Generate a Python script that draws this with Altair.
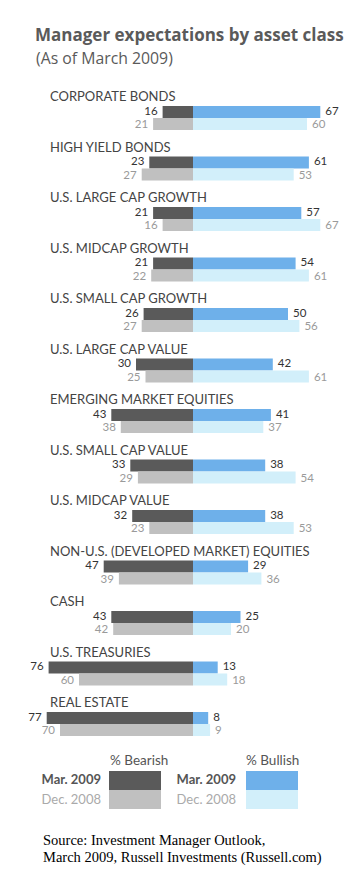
import altair as alt
import pandas as pd

categories = [
    "CORPORATE BONDS", "HIGH YIELD BONDS", "U.S. LARGE CAP GROWTH",
    "U.S. MIDCAP GROWTH", "U.S. SMALL CAP GROWTH", "U.S. LARGE CAP VALUE",
    "EMERGING MARKET EQUITIES", "U.S. SMALL CAP VALUE", "U.S. MIDCAP VALUE",
    "NON-U.S. (DEVELOPED MARKET) EQUITIES", "CASH", "U.S. TREASURIES",
    "REAL ESTATE",
]
bearish_mar = [16, 23, 21, 21, 26, 30, 43, 33, 32, 47, 43, 76, 77]
bullish_mar = [67, 61, 57, 54, 50, 42, 41, 38, 38, 29, 25, 13, 8]
bearish_dec = [21, 27, 16, 22, 27, 25, 38, 29, 23, 39, 42, 60, 70]
bullish_dec = [60, 53, 67, 61, 56, 61, 37, 54, 53, 36, 20, 18, 9]
periods = ["Mar. 2009", "Dec. 2008"]

title_text = "Manager expectations by asset class"
subtitle_text = "(As of March 2009)"
source_text = "Source: Investment Manager Outlook,\nMarch 2009, Russell Investments (Russell.com)"

rows = []
for i, c in enumerate(categories):
    rows.append({"cat": c, "idx": i, "period": periods[0], "sub": 0,
                 "bear": bearish_mar[i], "bull": bullish_mar[i]})
    rows.append({"cat": c, "idx": i, "period": periods[1], "sub": 1,
                 "bear": bearish_dec[i], "bull": bullish_dec[i]})
df = pd.DataFrame(rows)
cats_df = pd.DataFrame({"cat": categories, "idx": list(range(len(categories)))})

W, H = 344, 859
PX = 1.9          # pixels per percentage point
ZERO = 185        # pixel position of zero
GROUP = 50.5      # pixels per category group
FIRST = 89        # pixel position of first category label

xs = alt.Scale(domain=[-ZERO / PX, (W - ZERO) / PX], nice=False, zero=False)
ys = alt.Scale(domain=[-FIRST / GROUP, (H - FIRST) / GROUP], nice=False,
               zero=False, reverse=True)

FONT = "Lato"
C_BEAR_MAR = "#5a5a5a"
C_BEAR_DEC = "#c0c0c0"
C_BULL_MAR = "#6eb0ea"
C_BULL_DEC = "#d2effa"

base = alt.Chart(df).transform_calculate(
    nbear="-datum.bear",
    top=f"datum.idx + {9/GROUP} + datum.sub * {12/GROUP}",
    bot=f"datum.idx + {21/GROUP} + datum.sub * {12/GROUP}",
    mid=f"datum.idx + {14.5/GROUP} + datum.sub * {13.5/GROUP}",
    zero="0",
)

bar_color = alt.Color(
    "key:N",
    scale=alt.Scale(domain=["bear0", "bear1", "bull0", "bull1"],
                    range=[C_BEAR_MAR, C_BEAR_DEC, C_BULL_MAR, C_BULL_DEC]),
    legend=None,
)

bear_bars = base.transform_calculate(key="'bear' + datum.sub").mark_rect().encode(
    x=alt.X("nbear:Q", scale=xs, axis=None),
    x2="zero:Q",
    y=alt.Y("top:Q", scale=ys, axis=None),
    y2="bot:Q",
    color=bar_color,
)
bull_bars = base.transform_calculate(key="'bull' + datum.sub").mark_rect().encode(
    x=alt.X("zero:Q", scale=xs, axis=None),
    x2="bull:Q",
    y=alt.Y("top:Q", scale=ys, axis=None),
    y2="bot:Q",
    color=bar_color,
)

lab_color = alt.Color(
    "period:N",
    scale=alt.Scale(domain=periods, range=["#333333", "#9a9a9a"]),
    legend=None,
)
bear_labels = base.mark_text(font=FONT, fontSize=11.5, align="right",
                             baseline="middle", dx=-5).encode(
    x=alt.X("nbear:Q", scale=xs, axis=None),
    y=alt.Y("mid:Q", scale=ys, axis=None),
    text="bear:Q",
    color=lab_color,
)
bull_labels = base.mark_text(font=FONT, fontSize=11.5, align="left",
                             baseline="middle", dx=5).encode(
    x=alt.X("bull:Q", scale=xs, axis=None),
    y=alt.Y("mid:Q", scale=ys, axis=None),
    text="bull:Q",
    color=lab_color,
)

cat_labels = alt.Chart(cats_df).mark_text(
    font=FONT, fontSize=13, align="left", baseline="middle", color="#444444"
).encode(
    x=alt.value(42),
    y=alt.Y("idx:Q", scale=ys, axis=None),
    text="cat:N",
)

title = alt.Chart(pd.DataFrame({"t": [title_text]})).mark_text(
    font="Open Sans", fontSize=17, fontWeight="bold", align="left",
    baseline="alphabetic", color="#5a5a5a"
).encode(x=alt.value(27), y=alt.value(33), text="t:N")

subtitle = alt.Chart(pd.DataFrame({"t": [subtitle_text]})).mark_text(
    font="Open Sans", fontSize=15.8, align="left", baseline="alphabetic",
    color="#5a5a5a"
).encode(x=alt.value(28), y=alt.value(56), text="t:N")

# Legend
leg_heads = alt.Chart(pd.DataFrame({"t": ["% Bearish", "% Bullish"],
                                    "x": [102, 238]})).mark_text(
    font=FONT, fontSize=13.5, align="left", baseline="middle", color="#555555"
).encode(x=alt.X("x:Q", scale=None), y=alt.value(753), text="t:N")

leg_boxes = alt.Chart(pd.DataFrame({
    "x": [101, 101, 238, 238], "x2": [153, 153, 290, 290],
    "y": [763, 782, 763, 782], "y2": [782, 801, 782, 801],
    "c": [C_BEAR_MAR, C_BEAR_DEC, C_BULL_MAR, C_BULL_DEC],
})).mark_rect().encode(
    x=alt.X("x:Q", scale=None), x2="x2:Q",
    y=alt.Y("y:Q", scale=None), y2="y2:Q",
    color=alt.Color("c:N", scale=None),
)

leg_mar = alt.Chart(pd.DataFrame({"t": [periods[0]] * 2, "x": [93, 228]})).mark_text(
    font=FONT, fontSize=13, fontWeight="bold", align="right",
    baseline="middle", color="#555555"
).encode(x=alt.X("x:Q", scale=None), y=alt.value(772), text="t:N")

leg_dec = alt.Chart(pd.DataFrame({"t": [periods[1]] * 2, "x": [93, 228]})).mark_text(
    font=FONT, fontSize=13, align="right", baseline="middle", color="#aaaaaa"
).encode(x=alt.X("x:Q", scale=None), y=alt.value(792), text="t:N")

source = alt.Chart(pd.DataFrame({"t": [source_text]})).mark_text(
    font="Liberation Serif", fontSize=14.5, align="left", baseline="top",
    color="#000000", lineBreak="\n", lineHeight=17
).encode(x=alt.value(35), y=alt.value(826), text="t:N")

chart = alt.layer(
    bear_bars, bull_bars, bear_labels, bull_labels, cat_labels,
    title, subtitle, leg_heads, leg_boxes, leg_mar, leg_dec, source,
).resolve_scale(color="independent").properties(
    width=W, height=H, padding=0, autosize=alt.AutoSizeParams(type="none")
).configure_view(stroke=None)

chart.save("out.html", embed_options={"renderer": "svg", "actions": False})
